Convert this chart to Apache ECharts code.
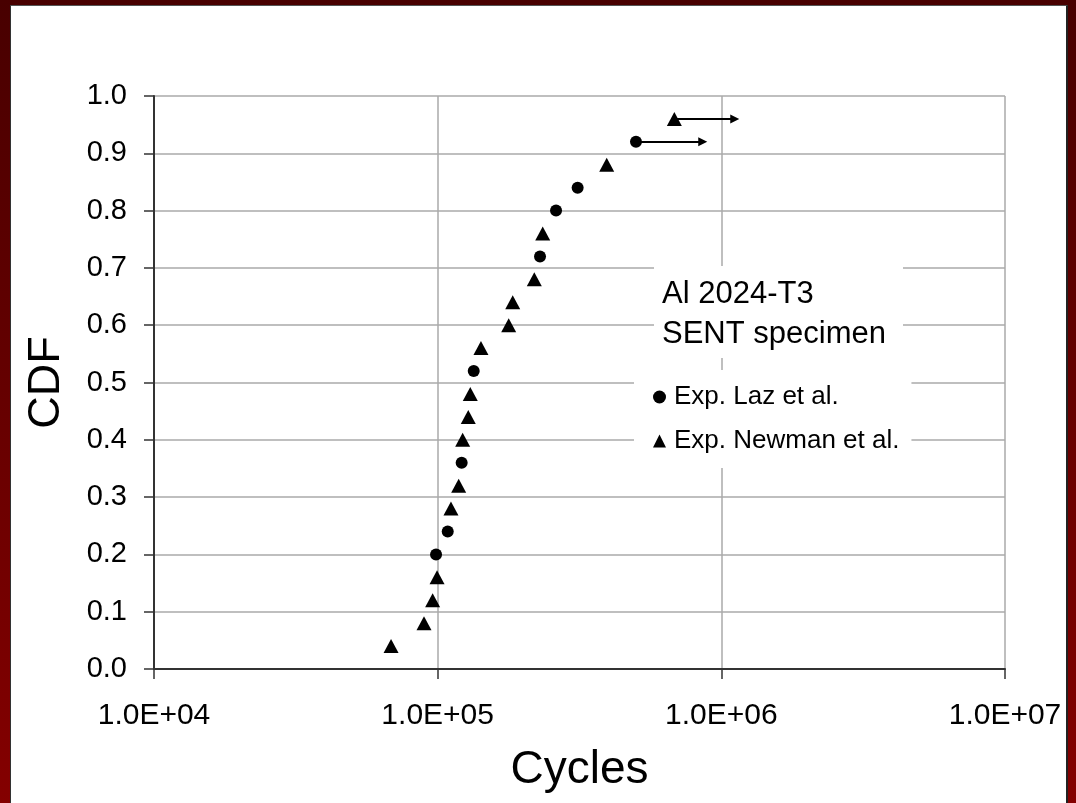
<!DOCTYPE html>
<html lang="en">
<head>
	<meta charset="UTF-8">
	<title>CDF - Al 2024-T3</title>
	<style>
		html, body{
			margin: 0;
			padding: 0;
			width: 1076px;
			height: 803px;
			overflow: hidden;
			background: linear-gradient(#480000, #840000);
		}
		#main{
			position: absolute;
			left: 10px;
			top: 5px;
			width: 1055px;
			height: 800px;
			background: #fff;
			border-left: 1px solid #333;
			border-top: 1px solid #555;
			border-right: 2px solid #222;
		}
	</style>
</head>
<body>
	<div id="main"></div>

	<script src="https://cdn.jsdelivr.net/npm/echarts@6/dist/echarts.min.js"></script>
	<script>
		// data
		var lazCycles   = [98700, 108500, 121500, 134000, 229500, 261400, 311500, 500200];
		var lazCdf      = [0.20, 0.24, 0.36, 0.52, 0.72, 0.80, 0.84, 0.92];
		var newmanCycles= [68500, 89500, 96000, 99500, 111400, 118600, 122500, 128200, 130300, 142100, 178000, 183900, 219100, 234600, 394400, 682900];
		var newmanCdf   = [0.04, 0.08, 0.12, 0.16, 0.28, 0.32, 0.40, 0.44, 0.48, 0.56, 0.60, 0.64, 0.68, 0.76, 0.88, 0.96];
		// run-outs (arrow from last point, arrowhead centre)
		var lazArrowEnd    = 860000;
		var newmanArrowEnd = 1115000;
		var xTicks = [1e4, 1e5, 1e6, 1e7];

		var font = '"Liberation Sans", Arial, sans-serif';

		function pairs(xs, ys){
			var out = [];
			for(var i=0;i<xs.length;i++){
				out.push([xs[i], ys[i]]);
			}
			return out;
		}

		function expLabel(v){
			var e = Math.round(Math.log10(v));
			return '1.0E+' + (e < 10 ? '0' : '') + e;
		}

		var lazLast = lazCycles.length-1;
		var nwLast = newmanCycles.length-1;

		var myChart = echarts.init(document.getElementById('main'));
		var option = {
			animation: false,
			grid: {left: 143, right: 61, top: 90, bottom: 137},
			legend: {
				orient: 'vertical',
				left: 623,
				top: 364,
				padding: [14, 12, 14, 19],
				itemGap: 18,
				itemWidth: 13,
				itemHeight: 13,
				backgroundColor: '#fff',
				textStyle: {fontFamily: font, fontSize: 26, color: '#000', padding: [0, 0, 0, 3]},
				data: ['Exp. Laz et al.', 'Exp. Newman et al.']
			},
			graphic: [{
				type: 'rect',
				left: 643, top: 260,
				shape: {width: 249, height: 92},
				style: {fill: '#fff'},
				z: 10
			},{
				type: 'text',
				left: 651, top: 273,
				style: {text: 'Al 2024-T3', font: '31px ' + font, fill: '#000'},
				z: 11
			},{
				type: 'text',
				left: 651, top: 313,
				style: {text: 'SENT specimen', font: '31px ' + font, fill: '#000'},
				z: 11
			}],
			xAxis: {
				type: 'log',
				logBase: 10,
				min: xTicks[0],
				max: xTicks[xTicks.length-1],
				name: 'Cycles',
				nameLocation: 'middle',
				nameGap: 78,
				nameTextStyle: {fontFamily: font, fontSize: 46, color: '#000'},
				axisLine: {lineStyle: {color: '#333', width: 2}},
				axisTick: {show: true, length: 10, lineStyle: {color: '#333', width: 1.5}},
				minorTick: {show: false},
				axisLabel: {fontFamily: font, fontSize: 30, color: '#000', margin: 32, formatter: expLabel},
				splitLine: {show: true, lineStyle: {color: '#aaaaaa', width: 1.5}}
			},
			yAxis: {
				type: 'value',
				min: 0,
				max: 1,
				interval: 0.1,
				name: 'CDF',
				nameLocation: 'middle',
				nameGap: 85,
				nameTextStyle: {fontFamily: font, fontSize: 45, color: '#000'},
				axisLine: {show: true, lineStyle: {color: '#333', width: 2}},
				axisTick: {show: true, length: 10, lineStyle: {color: '#333', width: 1.5}},
				axisLabel: {fontFamily: font, fontSize: 29, color: '#000', margin: 27,
					formatter: function(v){ return v.toFixed(1); }},
				splitLine: {show: true, lineStyle: {color: '#aaaaaa', width: 1.5}}
			},
			series: [{
				name: 'Exp. Laz et al.',
				type: 'scatter',
				symbol: 'circle',
				symbolSize: 12,
				itemStyle: {color: '#000', opacity: 1},
				data: pairs(lazCycles, lazCdf),
				markLine: {
					silent: true,
					symbol: ['none', 'triangle'],
					symbolSize: 9,
					label: {show: false},
					lineStyle: {color: '#000', width: 2, type: 'solid', opacity: 1},
					data: [[{coord: [lazCycles[lazLast], lazCdf[lazLast]]}, {coord: [lazArrowEnd, lazCdf[lazLast]]}]]
				}
			},{
				name: 'Exp. Newman et al.',
				type: 'scatter',
				symbol: 'triangle',
				symbolSize: [15, 14],
				itemStyle: {color: '#000', opacity: 1},
				data: pairs(newmanCycles, newmanCdf),
				markLine: {
					silent: true,
					symbol: ['none', 'triangle'],
					symbolSize: 9,
					label: {show: false},
					lineStyle: {color: '#000', width: 2, type: 'solid', opacity: 1},
					data: [[{coord: [newmanCycles[nwLast], newmanCdf[nwLast]]}, {coord: [newmanArrowEnd, newmanCdf[nwLast]]}]]
				}
			}]
		};
		myChart.setOption(option);
	</script>
</body>
</html>
